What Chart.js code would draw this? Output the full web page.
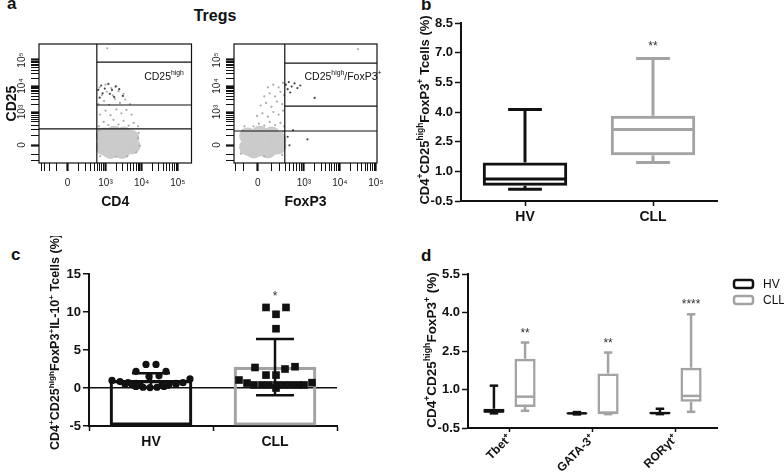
<!DOCTYPE html>
<html>
<head>
<meta charset="utf-8">
<script src="https://cdn.jsdelivr.net/npm/chart.js@4.4.1/dist/chart.umd.min.js"></script>
<style>
body{margin:0;background:#fff;width:784px;height:473px;position:relative;overflow:hidden;font-family:"Liberation Sans",Arial,sans-serif}
canvas{position:absolute}
.lbl{position:absolute;font-weight:bold;color:#111;font-size:17px;line-height:1}
</style>
</head>
<body>
<div class="lbl" style="left:7px;top:-5px">a</div>
<div class="lbl" style="left:165px;top:8px;width:100px;text-align:center;font-size:16px">Tregs</div>
<div class="lbl" style="left:421px;top:-4px">b</div>
<div class="lbl" style="left:11px;top:246px">c</div>
<div class="lbl" style="left:421px;top:247px">d</div>

<canvas id="a1" width="200" height="215" style="left:0;top:0"></canvas>
<canvas id="a2" width="200" height="215" style="left:200px;top:0"></canvas>
<canvas id="b" width="384" height="236" style="left:400px;top:0"></canvas>
<canvas id="c" width="400" height="237" style="left:0;top:236px"></canvas>
<canvas id="d" width="384" height="237" style="left:400px;top:236px"></canvas>

<script>
// ---- panel a: flow plots, axes in "decade" units (3 = 10^3, 4 = 10^4 ...)
const a1Cloud = [[2.97,2.08],[3.24,2.15],[3.51,2.12],[3.70,2.0],[2.97,1.65],[3.24,1.62],[3.51,1.65],[3.73,1.69],[3.14,1.52],[3.46,1.52]];
const a1Grey = [[2.82,2.45],[2.95,2.62],[3.08,2.5],[3.22,2.7],[3.36,2.52],[3.5,2.66],[3.64,2.48],[3.78,2.58],[3.9,2.45],
  [2.85,2.9],[3.0,3.05],[3.14,2.88],[3.3,3.1],[3.44,2.95],[3.58,3.08],[3.72,2.9],
  [2.8,3.3],[2.96,3.42],[3.1,3.28],[3.26,3.5],[3.4,3.35],[3.55,3.48],[3.68,3.3],
  [2.9,3.65],[3.04,3.78],[3.2,3.64],[3.36,3.8],[3.5,3.7],[2.84,3.95],[3.0,4.05],[3.16,3.92],[3.3,4.0],
  [3.9,2.0],[3.95,1.7],[3.85,1.45],[2.85,1.3],[3.6,1.3],[3.3,1.28],[3.92,2.2],[2.82,2.3],[3.05,5.45]];
const a1Dark = [[2.8,3.85],[2.88,4.02],[2.98,3.9],[3.08,4.08],[3.18,3.85],[3.28,3.98],[2.92,3.72],[3.12,3.7],[3.38,3.88],[3.48,3.62],[3.24,3.58],[2.84,3.55]];
const a1GateX = [2.76], a1GateY = [4.92, 3.27, 2.35];

const a2Cloud = [[1.44,2.08],[1.78,2.15],[2.11,2.12],[2.28,1.92],[1.44,1.65],[1.78,1.62],[2.11,1.65],[2.28,1.69],[1.61,1.54],[2.0,1.54]];
const a2Grey = [[1.6,2.45],[1.75,2.55],[1.9,2.48],[2.05,2.62],[2.2,2.5],[2.35,2.58],[2.45,2.45],
  [1.7,2.85],[1.85,2.95],[2.0,2.82],[2.15,3.0],[2.3,2.9],[2.42,3.05],
  [1.8,3.25],[1.95,3.35],[2.1,3.2],[2.25,3.4],[2.4,3.3],
  [1.9,3.6],[2.05,3.72],[2.2,3.6],[2.35,3.78],[2.45,3.65],[2.0,3.95],[2.15,4.05],[2.3,3.95],[2.42,4.12],
  [1.3,2.3],[1.25,1.4],[2.4,1.35],[1.9,1.3],[2.42,2.25],[1.35,2.45],[4.5,5.42]];
const a2Dark = [[2.5,4.05],[2.58,4.15],[2.66,3.98],[2.74,4.1],[2.55,3.88],[2.82,3.92],[2.62,3.75],[3.3,3.54],[2.9,4.02],[2.55,2.05],[3.1,1.95],[2.6,1.72],[2.7,2.3]];
const a2GateX = [2.47], a2GateY = [4.88, 3.23, 2.27];

// ---- panel b: box plot
const bGroups = ['HV', 'CLL'];
const bMin = [0.1, 1.45], bQ1 = [0.27, 1.81], bMed = [0.61, 3.12], bQ3 = [1.45, 3.81], bMax = [4.13, 6.7];
const bStars = ['', '**'];

// ---- panel c: mean + SD with individual values
const cGroups = ['HV', 'CLL'];
const cMean = [1.0, 2.75], cSD = [0.95, 3.7];
const hvVals = [1.0,0.85,0.7,0.6,0.6,0.7,1.2, 0.5,0.45,0.4,0.4,0.45,0.5, 0.2,0.1,0.05,0.1,0.2, 3.1,3.1,2.2,2.2,1.5,1.6];
const hvJit  = [-39,-31,-23,-15,25,32,39, -26,-19,-11,11,18,25, -15,-8,-1,6,13, -5,5,-15,15,-2,8];
const cllVals = [10.6,10.6,9.7,7.8, 2.7,2.5,2.8, 1.7,1.7, 1.05,0.65,0.7, 0.4,0.4,0.4,0.4,0.4,0.4,0.4,0.4, 0.0];
const cllJit  = [-9,11,1,1, -20,10,20, -9,1, -36,-28,37, -21,-13,-6,2,9,16,23,29, 1];

// ---- panel d: grouped box plots
const dCats = ['Tbet⁺', 'GATA-3⁺', 'RORγt⁺'];
const dHvMin = [0.07, 0.03, 0.04], dHvQ1 = [0.09, 0.05, 0.05], dHvMed = [0.15, 0.07, 0.08], dHvQ3 = [0.25, 0.1, 0.12], dHvMax = [1.15, 0.12, 0.25];
const dClMin = [0.17, 0.04, 0.13], dClQ1 = [0.32, 0.05, 0.52], dClMed = [0.72, 0.09, 0.75], dClQ3 = [2.2, 1.62, 1.85], dClMax = [2.83, 2.44, 3.93];
const dStars = ['**', '**', '****'];

const BLACK = '#111', GREY = '#a3a3a3';
const FONT = '"Liberation Sans", Arial, sans-serif';
Chart.defaults.font.family = FONT;
Chart.defaults.color = BLACK;

const sup = ['CD4', ['+'], 'CD25', ['high'], 'FoxP3', ['+']];

function richText(ctx, parts, x, y, size, rot, weight) {
  const small = size * 0.65;
  ctx.save();
  ctx.translate(x, y);
  ctx.rotate(rot || 0);
  ctx.fillStyle = BLACK;
  ctx.textBaseline = 'middle';
  const fontFor = p => `${weight || 'bold'} ${Array.isArray(p) ? small : size}px ${FONT}`;
  let w = 0;
  parts.forEach(p => { ctx.font = fontFor(p); w += ctx.measureText(Array.isArray(p) ? p[0] : p).width; });
  let cx = -w / 2;
  parts.forEach(p => {
    const t = Array.isArray(p) ? p[0] : p;
    ctx.font = fontFor(p);
    ctx.fillText(t, cx, Array.isArray(p) ? -size * 0.36 : 0);
    cx += ctx.measureText(t).width;
  });
  ctx.restore();
}

// free text (axis titles with superscripts, gate names)
Chart.register({
  id: 'decor',
  afterDraw(chart, args, opts) {
    (opts.texts || []).forEach(t => richText(chart.ctx, t.parts, t.x, t.y, t.size, t.rot, t.weight));
  }
});

// whiskers, medians, SD bars and significance stars
Chart.register({
  id: 'extras',
  afterDatasetsDraw(chart) {
    const ctx = chart.ctx, ys = chart.scales.y;
    const seg = (x1, y1, x2, y2) => { ctx.beginPath(); ctx.moveTo(x1, y1); ctx.lineTo(x2, y2); ctx.stroke(); };
    chart.data.datasets.forEach((ds, i) => {
      const meta = chart.getDatasetMeta(i);
      if (ds.type === 'scatter') return;
      meta.data.forEach((bar, j) => {
        const col = Array.isArray(ds.borderColor) ? ds.borderColor[j] : ds.borderColor;
        const x = bar.x, hw = bar.width / 2, cw = bar.width * 0.2;
        ctx.save();
        ctx.lineCap = 'butt';
        let top = null;
        if (ds.whisk) {
          const w = ds.whisk, [q1, q3] = ds.data[j];
          ctx.strokeStyle = col; ctx.lineWidth = ds.borderWidth;
          const pMax = ys.getPixelForValue(w.max[j]), pMin = ys.getPixelForValue(w.min[j]);
          seg(x, ys.getPixelForValue(q3), x, pMax); seg(x - cw, pMax, x + cw, pMax);
          seg(x, ys.getPixelForValue(q1), x, pMin); seg(x - cw, pMin, x + cw, pMin);
          const pm = ys.getPixelForValue(w.med[j]);
          seg(x - hw + 1, pm, x + hw - 1, pm);
          top = pMax;
        }
        if (ds.sd) {
          const m = ds.data[j].y, s = ds.sd[j];
          ctx.strokeStyle = BLACK; ctx.lineWidth = 2.5;
          const pt = ys.getPixelForValue(m + s), pb = ys.getPixelForValue(m - s);
          seg(x, pt, x, pb); seg(x - 19, pt, x + 19, pt); seg(x - 19, pb, x + 19, pb);
          if (ds.starAt) top = ys.getPixelForValue(ds.starAt[j]);
        }
        if (ds.stars && ds.stars[j] && top !== null) {
          ctx.fillStyle = '#333';
          ctx.font = `12px ${FONT}`;
          ctx.textAlign = 'center';
          ctx.textBaseline = 'alphabetic';
          ctx.fillText(ds.stars[j], x, top - ds.starGap);
        }
        ctx.restore();
      });
    });
  }
});

// legend drawn at the spot it has in the figure, from the dataset labels
const boxLegend = {
  id: 'boxLegend',
  afterDraw(chart, args, opts) {
    const ctx = chart.ctx;
    chart.data.datasets.forEach((ds, i) => {
      const y = opts.y + i * opts.step;
      ctx.save();
      ctx.strokeStyle = ds.borderColor; ctx.lineWidth = ds.borderWidth;
      ctx.beginPath();
      ctx.roundRect(opts.x, y - 4, 19, 8, 2.5);
      ctx.stroke();
      ctx.fillStyle = BLACK;
      ctx.font = `12px ${FONT}`;
      ctx.textBaseline = 'middle';
      ctx.fillText(ds.label, opts.x + 29, y + 0.5);
      ctx.restore();
    });
  }
};

// frame, gates and rotated y labels of the flow plots
const flowPlugin = {
  id: 'flow',
  afterDraw(chart, args, opts) {
    const ctx = chart.ctx, a = chart.chartArea, xs = chart.scales.x, ys = chart.scales.y;
    ctx.save();
    ctx.strokeStyle = BLACK; ctx.lineWidth = 1.2;
    ctx.strokeRect(a.left, a.top, a.right - a.left, a.bottom - a.top);
    opts.gx.forEach(v => { const p = xs.getPixelForValue(v); ctx.beginPath(); ctx.moveTo(p, a.top); ctx.lineTo(p, a.bottom); ctx.stroke(); });
    opts.gy.forEach((v, k) => {
      const p = ys.getPixelForValue(v);
      const x0 = k === opts.gy.length - 1 ? a.left : xs.getPixelForValue(opts.gx[0]);
      ctx.beginPath(); ctx.moveTo(x0, p); ctx.lineTo(a.right, p); ctx.stroke();
    });
    ctx.fillStyle = '#222';
    ctx.font = `10px ${FONT}`;
    ctx.textAlign = 'center'; ctx.textBaseline = 'middle';
    ys.ticks.forEach(t => {
      const lab = decadeLabel(t.value, opts.zy);
      if (!lab) return;
      ctx.save();
      ctx.translate(a.left - 17, ys.getPixelForValue(t.value));
      ctx.rotate(-Math.PI / 2);
      ctx.fillText(lab, 0, 0);
      ctx.restore();
    });
    ctx.restore();
  }
};

function decadeTicks(zero, lo, hi) {
  const t = [zero, 3, 4, 5];
  for (let k = 2; k < 10; k++) {
    const l = Math.log10(k);
    t.push(zero + l * (3 - zero), zero - l * (3 - zero), 3 + l, 4 + l);
  }
  return t.filter(v => v >= lo && v <= hi).sort((p, q) => p - q);
}
function decadeLabel(v, zero) {
  if (Math.abs(v - zero) < 1e-6) return '0';
  if (v === 3) return '10³';
  if (v === 4) return '10⁴';
  if (v === 5) return '10⁵';
  return '';
}

function flowChart(id, cloud, grey, dark, gx, gy, xr, zx, padRight, yWidth, xTitle, yTitle, texts) {
  const yr = [1.04, 5.615], zy = 1.73;
  const pts = arr => arr.map(p => ({x: p[0], y: p[1]}));
  new Chart(document.getElementById(id), {
    type: 'scatter',
    data: { datasets: [
      {data: pts(dark), pointRadius: 1.1, backgroundColor: '#444', borderWidth: 0},
      {data: pts(grey), pointRadius: 1.1, backgroundColor: '#aaa', borderWidth: 0},
      {data: pts(cloud), pointRadius: 8.5, backgroundColor: '#cbcbcb', borderWidth: 0}
    ]},
    plugins: [flowPlugin],
    options: {
      responsive: false, animation: false, devicePixelRatio: 1,
      layout: {padding: {top: 44, right: padRight, bottom: 0, left: 0}},
      plugins: {legend: {display: false}, tooltip: {enabled: false},
        flow: {gx: gx, gy: gy, zy: zy}, decor: {texts: texts}},
      scales: {
        x: {min: xr[0], max: xr[1],
          afterBuildTicks: s => { s.ticks = decadeTicks(zx, xr[0], xr[1]).map(v => ({value: v})); },
          ticks: {autoSkip: false, maxRotation: 0, padding: 6, color: '#222', font: {size: 10},
            callback: v => decadeLabel(v, zx)},
          grid: {drawOnChartArea: false, tickLength: 8, tickColor: BLACK,
            tickWidth: c => decadeLabel(c.tick.value, zx) ? 2.2 : 1},
          border: {display: false},
          title: {display: true, text: xTitle, font: {size: 14, weight: 'bold'}, color: BLACK},
          afterFit: s => { s.height = 52; }},
        y: {min: yr[0], max: yr[1],
          afterBuildTicks: s => { s.ticks = decadeTicks(zy, yr[0], yr[1]).map(v => ({value: v})); },
          ticks: {display: false},
          grid: {drawOnChartArea: false, tickLength: 8, tickColor: BLACK,
            tickWidth: c => decadeLabel(c.tick.value, zy) ? 2.2 : 1},
          border: {display: false},
          title: {display: !!yTitle, text: yTitle, font: {size: 14, weight: 'bold'}, color: BLACK},
          afterFit: s => { s.width = yWidth; }}
      }
    }
  });
}

flowChart('a1', a1Cloud, a1Grey, a1Dark, a1GateX, a1GateY, [1.16, 5.38], 1.95, 5, 39, 'CD4', 'CD25',
  [{parts: ['CD25', ['high']], x: 164, y: 77, size: 10.5, weight: 'normal'}]);
flowChart('a2', a2Cloud, a2Grey, a2Dark, a2GateX, a2GateY, [1.06, 5.03], 1.72, 23, 34, 'FoxP3', '',
  [{parts: ['CD25', ['high'], '/FoxP3', ['+']], x: 143, y: 77, size: 10.5, weight: 'normal'}]);

// ---- panel b
new Chart(document.getElementById('b'), {
  type: 'bar',
  data: {labels: bGroups, datasets: [{
    data: bQ1.map((v, i) => [v, bQ3[i]]),
    backgroundColor: 'rgba(0,0,0,0)', borderColor: [BLACK, GREY], borderWidth: 3, borderSkipped: false,
    barPercentage: 0.66, categoryPercentage: 1,
    whisk: {min: bMin, med: bMed, max: bMax}, stars: bStars, starGap: 9
  }]},
  options: {
    responsive: false, animation: false, devicePixelRatio: 1,
    layout: {padding: {top: 23, right: 67, bottom: 11, left: 0}},
    plugins: {legend: {display: false}, tooltip: {enabled: false},
      decor: {texts: [{parts: sup.concat([' Tcells (%)']), x: 25, y: 110, size: 13, rot: -Math.PI / 2}]}},
    scales: {
      x: {grid: {drawOnChartArea: false, offset: false, tickLength: 5, tickColor: BLACK, tickWidth: 1.5},
        border: {color: BLACK, width: 2},
        ticks: {font: {size: 14, weight: 'bold'}, padding: 3},
        afterFit: s => { s.height = 24; }},
      y: {min: -0.5, max: 8.5,
        ticks: {stepSize: 1.5, callback: v => v.toFixed(1), font: {size: 13, weight: 'bold'}, padding: 2},
        grid: {drawOnChartArea: false, tickLength: 6, tickColor: BLACK, tickWidth: 1.5},
        border: {color: BLACK, width: 2},
        afterFit: s => { s.width = 61; }}
    }
  }
});

// ---- panel c
new Chart(document.getElementById('c'), {
  type: 'bar',
  data: {datasets: [
    {type: 'scatter', data: hvVals.map((v, i) => ({x: 1 + hvJit[i] / 124, y: v})),
      pointStyle: 'circle', pointRadius: 3.6, backgroundColor: BLACK, borderWidth: 0, order: 1},
    {type: 'scatter', data: cllVals.map((v, i) => ({x: 2 + cllJit[i] / 124, y: v})),
      pointStyle: 'rect', pointRadius: 5.4, backgroundColor: BLACK, borderWidth: 0, order: 1},
    {type: 'bar', data: cMean.map((m, i) => ({x: i + 1, y: m})), base: -5, barThickness: 82, grouped: false,
      backgroundColor: 'rgba(0,0,0,0)', borderColor: [BLACK, GREY], borderWidth: 2.5, borderSkipped: false,
      order: 2, sd: cSD, stars: ['', '*'], starAt: [0, Math.max(...cllVals)], starGap: 7}
  ]},
  options: {
    responsive: false, animation: false, devicePixelRatio: 1,
    layout: {padding: {top: 38, right: 63, bottom: 17, left: 0}},
    plugins: {legend: {display: false}, tooltip: {enabled: false},
      decor: {texts: [{parts: sup.concat(['IL-10', ['+'], ' Tcells (%)']), x: 56, y: 106, size: 12.5, rot: -Math.PI / 2}]}},
    scales: {
      x: {type: 'linear', min: 0.5, max: 2.5, offset: false,
        afterBuildTicks: s => { s.ticks = cGroups.map((g, i) => ({value: i + 1})); },
        ticks: {callback: v => cGroups[v - 1], font: {size: 14, weight: 'bold'}, padding: 3, autoSkip: false},
        grid: {drawOnChartArea: false, tickLength: 5, tickColor: BLACK, tickWidth: 1.5},
        border: {color: BLACK, width: 2},
        afterFit: s => { s.height = 30; }},
      y: {min: -5, max: 15,
        ticks: {stepSize: 5, font: {size: 13, weight: 'bold'}, padding: 2},
        grid: {color: c => c.tick && c.tick.value === 0 ? BLACK : 'rgba(0,0,0,0)', lineWidth: 1.5,
          tickLength: 6, tickColor: BLACK, tickWidth: 1.5},
        border: {color: BLACK, width: 2},
        afterFit: s => { s.width = 89; }}
    }
  }
});

// ---- panel d
new Chart(document.getElementById('d'), {
  type: 'bar',
  data: {labels: dCats, datasets: [
    {label: 'HV', data: dHvQ1.map((v, i) => [v, dHvQ3[i]]),
      backgroundColor: 'rgba(0,0,0,0)', borderColor: BLACK, borderWidth: 2.5, borderSkipped: false,
      barPercentage: 0.68, categoryPercentage: 0.75,
      whisk: {min: dHvMin, med: dHvMed, max: dHvMax}},
    {label: 'CLL', data: dClQ1.map((v, i) => [v, dClQ3[i]]),
      backgroundColor: 'rgba(0,0,0,0)', borderColor: GREY, borderWidth: 2.5, borderSkipped: false,
      barPercentage: 0.68, categoryPercentage: 0.75,
      whisk: {min: dClMin, med: dClMed, max: dClMax}, stars: dStars, starGap: 6}
  ]},
  plugins: [boxLegend],
  options: {
    responsive: false, animation: false, devicePixelRatio: 1,
    layout: {padding: {top: 38, right: 67, bottom: 0, left: 0}},
    plugins: {
      tooltip: {enabled: false},
      legend: {display: false},
      boxLegend: {x: 334, y: 48, step: 16},
      decor: {texts: [{parts: sup.concat([' (%)']), x: 32, y: 114, size: 13.5, rot: -Math.PI / 2}]}
    },
    scales: {
      x: {grid: {drawOnChartArea: false, offset: false, tickLength: 4, tickColor: BLACK, tickWidth: 1.5},
        border: {color: BLACK, width: 2},
        ticks: {minRotation: 45, maxRotation: 45, font: {size: 12, weight: 'bold'}, padding: 0},
        afterFit: s => { s.height = 45; }},
      y: {min: -0.5, max: 5.5,
        ticks: {stepSize: 1.5, callback: v => v.toFixed(1), font: {size: 13, weight: 'bold'}, padding: 2},
        grid: {drawOnChartArea: false, tickLength: 6, tickColor: BLACK, tickWidth: 1.5},
        border: {color: BLACK, width: 2},
        afterFit: s => { s.width = 68; }}
    }
  }
});
</script>
</body>
</html>
